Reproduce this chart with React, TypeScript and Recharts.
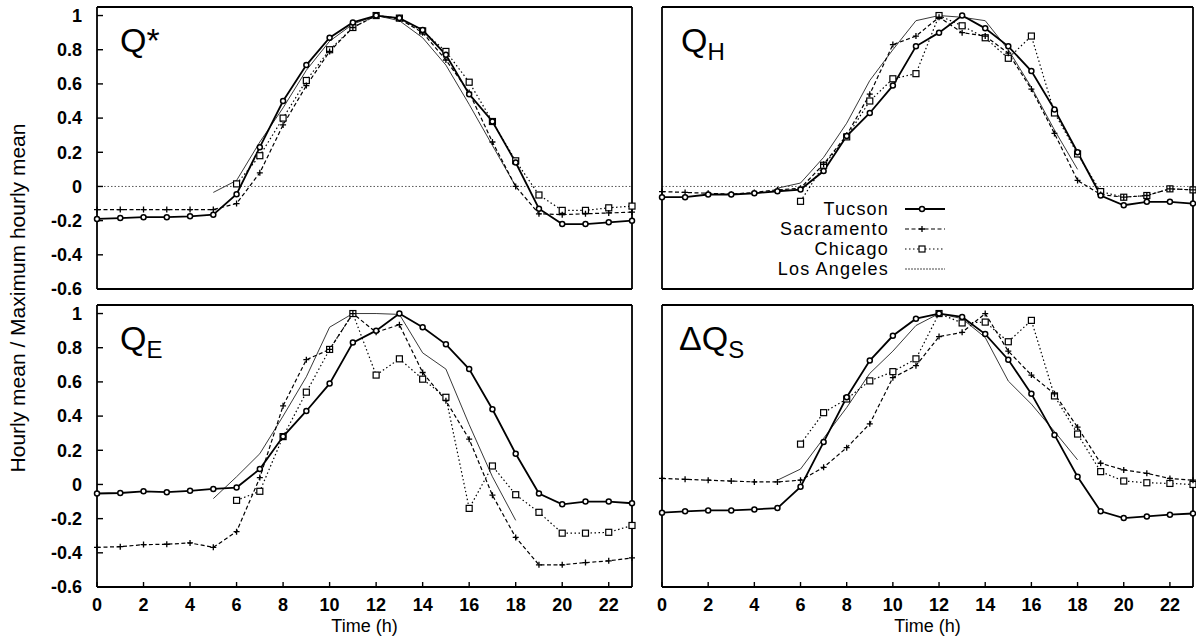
import React from 'react';
import { LineChart, Line, XAxis, YAxis, ReferenceLine, Customized } from 'recharts';

const FONT = '"Liberation Sans", Arial, Helvetica, sans-serif';

const hours = [0, 1, 2, 3, 4, 5, 6, 7, 8, 9, 10, 11, 12, 13, 14, 15, 16, 17, 18, 19, 20, 21, 22, 23];
const xTicks = [0, 2, 4, 6, 8, 10, 12, 14, 16, 18, 20, 22];
const yTicks = [-0.6, -0.4, -0.2, 0, 0.2, 0.4, 0.6, 0.8, 1];
const seriesNames = ['Tucson', 'Sacramento', 'Chicago', 'Los Angeles'];

// Q*
const qstarTucson = [-0.19, -0.185, -0.18, -0.18, -0.175, -0.165, -0.045, 0.23, 0.5, 0.71, 0.87, 0.96, 1.0, 0.985, 0.915, 0.77, 0.54, 0.38, 0.14, -0.13, -0.22, -0.22, -0.21, -0.2];
const qstarSacramento = [-0.135, -0.135, -0.135, -0.135, -0.135, -0.135, -0.1, 0.08, 0.36, 0.59, 0.79, 0.93, 1.0, 0.98, 0.9, 0.74, 0.55, 0.26, 0.0, -0.16, -0.165, -0.16, -0.155, -0.15];
const qstarChicago = [null, null, null, null, null, null, 0.015, 0.18, 0.4, 0.62, 0.8, 0.93, 1.0, 0.985, 0.91, 0.79, 0.61, 0.38, 0.15, -0.05, -0.14, -0.14, -0.125, -0.115];
const qstarLosAngeles = [null, null, null, null, null, -0.035, 0.035, 0.26, 0.46, 0.68, 0.85, 0.95, 1.0, 0.97, 0.87, 0.71, 0.48, 0.24, 0.0, null, null, null, null, null];

// QH
const qhTucson = [-0.063, -0.063, -0.047, -0.047, -0.04, -0.028, -0.018, 0.09, 0.295, 0.43, 0.59, 0.82, 0.9, 1.0, 0.925, 0.82, 0.675, 0.45, 0.2, -0.053, -0.11, -0.09, -0.09, -0.1];
const qhSacramento = [-0.03, -0.035, -0.04, -0.045, -0.035, -0.02, -0.01, 0.13, 0.3, 0.54, 0.83, 0.88, 0.99, 0.9, 0.88, 0.78, 0.57, 0.31, 0.035, -0.047, -0.063, -0.053, -0.014, -0.02];
const qhChicago = [null, null, null, null, null, null, -0.087, 0.124, 0.29, 0.5, 0.63, 0.66, 1.0, 0.94, 0.87, 0.75, 0.88, 0.43, 0.19, -0.03, -0.063, -0.053, -0.014, -0.02];
const qhLosAngeles = [null, null, null, null, null, -0.01, 0.02, 0.17, 0.37, 0.62, 0.8, 0.97, 1.0, 0.99, 0.97, 0.8, 0.58, 0.33, 0.1, null, null, null, null, null];

// QE
const qeTucson = [-0.053, -0.05, -0.04, -0.045, -0.037, -0.026, -0.018, 0.09, 0.28, 0.43, 0.59, 0.83, 0.9, 1.0, 0.92, 0.82, 0.675, 0.44, 0.18, -0.053, -0.116, -0.1, -0.1, -0.11];
const qeSacramento = [-0.368, -0.364, -0.352, -0.35, -0.342, -0.368, -0.276, 0.04, 0.46, 0.73, 0.79, 1.0, 0.89, 0.935, 0.655, 0.49, 0.265, -0.063, -0.31, -0.47, -0.47, -0.457, -0.447, -0.43];
const qeChicago = [null, null, null, null, null, null, -0.093, -0.04, 0.28, 0.54, 0.79, 1.0, 0.64, 0.735, 0.616, 0.51, -0.14, 0.108, -0.06, -0.163, -0.285, -0.285, -0.28, -0.24];
const qeLosAngeles = [null, null, null, null, null, -0.083, 0.045, 0.18, 0.4, 0.63, 0.92, 1.0, 1.0, 0.995, 0.77, 0.675, 0.35, 0.045, -0.21, null, null, null, null, null];

// Delta QS
const dqsTucson = [-0.165, -0.157, -0.152, -0.152, -0.146, -0.138, -0.014, 0.248, 0.51, 0.725, 0.87, 0.97, 1.0, 0.98, 0.88, 0.73, 0.53, 0.29, 0.045, -0.157, -0.197, -0.187, -0.177, -0.17];
const dqsSacramento = [0.035, 0.03, 0.025, 0.02, 0.015, 0.015, 0.025, 0.1, 0.215, 0.355, 0.625, 0.695, 0.865, 0.89, 1.0, 0.78, 0.64, 0.53, 0.335, 0.124, 0.085, 0.065, 0.035, 0.025];
const dqsChicago = [null, null, null, null, null, null, 0.236, 0.42, 0.5, 0.606, 0.66, 0.735, 1.0, 0.945, 0.95, 0.835, 0.96, 0.518, 0.295, 0.075, 0.02, 0.01, 0.006, 0.0];
const dqsLosAngeles = [null, null, null, null, null, 0.025, 0.09, 0.27, 0.45, 0.65, 0.78, 0.93, 1.0, 0.97, 0.86, 0.605, 0.47, 0.31, 0.144, null, null, null, null, null];

const build = (t: any[], s: any[], c: any[], l: any[]) =>
  hours.map((h, i) => ({ h, tucson: t[i], sacramento: s[i], chicago: c[i], la: l[i] }));

const qstarData = build(qstarTucson, qstarSacramento, qstarChicago, qstarLosAngeles);
const qhData = build(qhTucson, qhSacramento, qhChicago, qhLosAngeles);
const qeData = build(qeTucson, qeSacramento, qeChicago, qeLosAngeles);
const dqsData = build(dqsTucson, dqsSacramento, dqsChicago, dqsLosAngeles);

const fmt = (v: number) => String(Math.round(v * 10) / 10);

const CircleDot = (p: any) => {
  const { cx, cy, index, value } = p;
  if (cx == null || cy == null || value == null) return <g key={`c${index}`} />;
  return <circle key={`c${index}`} cx={cx} cy={cy} r={2.5} fill="#fff" stroke="#000" strokeWidth={1.5} />;
};
const PlusDot = (p: any) => {
  const { cx, cy, index, value } = p;
  if (cx == null || cy == null || value == null) return <g key={`p${index}`} />;
  return <path key={`p${index}`} d={`M${cx - 3},${cy}h6M${cx},${cy - 3}v6`} stroke="#000" strokeWidth={1.3} />;
};
const SquareDot = (p: any) => {
  const { cx, cy, index, value } = p;
  if (cx == null || cy == null || value == null) return <g key={`s${index}`} />;
  return <rect key={`s${index}`} x={cx - 3} y={cy - 3} width={6} height={6} fill="#fff" stroke="#000" strokeWidth={1.2} />;
};

const axisLineStyle = { stroke: '#000', strokeWidth: 1.8 };
const tickLineStyle = { stroke: '#000', strokeWidth: 1.4 };

type PanelProps = {
  left: number; top: number; width: number; height: number;
  margin: any; yAxisWidth: number; showY: boolean; showX: boolean;
  data: any[]; title: React.ReactNode; zeroLine: boolean; legend?: boolean;
};

function Legend() {
  const rows = [0, 1, 2, 3];
  const baselines = [215, 235, 255, 275];
  return (
    <g>
      {rows.map((r) => {
        const y = baselines[r];
        const ly = y - 6;
        return (
          <g key={r}>
            <text x={249} y={y} textAnchor="end" fontSize={18} fontFamily={FONT} fill="#000" letterSpacing={1.2}>
              {seriesNames[r]}
            </text>
            {r === 0 && (
              <g>
                <line x1={265} x2={305} y1={ly} y2={ly} stroke="#000" strokeWidth={1.8} />
                <circle cx={282} cy={ly} r={2.5} fill="#fff" stroke="#000" strokeWidth={1.5} />
              </g>
            )}
            {r === 1 && (
              <g>
                <line x1={265} x2={305} y1={ly} y2={ly} stroke="#000" strokeWidth={1.2} strokeDasharray="4 2.5" />
                <path d={`M${279},${ly}h6M${282},${ly - 3}v6`} stroke="#000" strokeWidth={1.3} />
              </g>
            )}
            {r === 2 && (
              <g>
                <line x1={265} x2={305} y1={ly} y2={ly} stroke="#000" strokeWidth={1.2} strokeDasharray="1.5 2.5" />
                <rect x={279} y={ly - 3} width={6} height={6} fill="#fff" stroke="#000" strokeWidth={1.2} />
              </g>
            )}
            {r === 3 && (
              <line x1={265} x2={305} y1={ly} y2={ly} stroke="#333" strokeWidth={0.9} strokeDasharray="2 1" />
            )}
          </g>
        );
      })}
    </g>
  );
}

function Panel(props: PanelProps) {
  const { left, top, width, height, margin, yAxisWidth, showY, showX, data, title, zeroLine, legend } = props;
  return (
    <div style={{ position: 'absolute', left, top, width, height }}>
      <LineChart width={width} height={height} data={data} margin={margin}>
        <XAxis
          xAxisId="b" dataKey="h" type="number" domain={[0, 23]} ticks={xTicks} interval={0}
          height={showX ? 46 : 1} tickSize={-5} tickMargin={16}
          axisLine={axisLineStyle} tickLine={tickLineStyle}
          tick={showX ? { fill: '#000', fontSize: 18, fontWeight: 700, fontFamily: FONT } : false}
          label={showX ? { value: 'Time (h)', position: 'insideBottom', offset: 1, fill: '#000', fontSize: 18, fontFamily: FONT } : undefined}
        />
        <XAxis
          xAxisId="t" orientation="top" dataKey="h" type="number" domain={[0, 23]} ticks={xTicks} interval={0}
          height={1} tickSize={-5} tick={false} axisLine={axisLineStyle} tickLine={tickLineStyle}
        />
        <YAxis
          yAxisId="l" type="number" domain={[-0.6, 1.05]} ticks={yTicks} interval={0}
          width={yAxisWidth} tickSize={-6} tickMargin={21} tickFormatter={fmt}
          axisLine={axisLineStyle} tickLine={tickLineStyle}
          tick={showY ? { fill: '#000', fontSize: 18, fontWeight: 700, fontFamily: FONT } : false}
        />
        <YAxis
          yAxisId="r" orientation="right" type="number" domain={[-0.6, 1.05]} ticks={yTicks} interval={0}
          width={1} tickSize={-6} tick={false} axisLine={axisLineStyle} tickLine={tickLineStyle}
        />
        {zeroLine && (
          <ReferenceLine xAxisId="b" yAxisId="l" y={0} stroke="#444" strokeWidth={0.9} strokeDasharray="1.5 2" />
        )}
        <Line xAxisId="b" yAxisId="l" dataKey="la" stroke="#222" strokeWidth={0.9} dot={false} activeDot={false} isAnimationActive={false} connectNulls={false} />
        <Line xAxisId="b" yAxisId="l" dataKey="chicago" stroke="#000" strokeWidth={1.2} strokeDasharray="1.5 2.5" dot={SquareDot} activeDot={false} isAnimationActive={false} connectNulls={false} />
        <Line xAxisId="b" yAxisId="l" dataKey="sacramento" stroke="#000" strokeWidth={1.2} strokeDasharray="4 2.5" dot={PlusDot} activeDot={false} isAnimationActive={false} connectNulls={false} />
        <Line xAxisId="b" yAxisId="l" dataKey="tucson" stroke="#000" strokeWidth={1.8} dot={CircleDot} activeDot={false} isAnimationActive={false} connectNulls={false} />
        <Customized component={() => <g>{title}{legend ? <Legend /> : null}</g>} />
      </LineChart>
    </div>
  );
}

const titleStyle = { fontSize: 34, fontFamily: FONT, fill: '#000' };

export default function App() {
  return (
    <div style={{ position: 'absolute', left: 0, top: 0, width: 1196, height: 636, background: '#fff', overflow: 'hidden' }}>
      <svg style={{ position: 'absolute', left: 0, top: 0 }} width={40} height={636}>
        <text transform="translate(25,298) rotate(-90)" textAnchor="middle" fontSize={21} fontFamily={FONT} fill="#000">
          Hourly mean / Maximum hourly mean
        </text>
      </svg>
      <Panel
        left={0} top={0} width={640} height={300}
        margin={{ top: 6, right: 7, bottom: 10, left: 0 }} yAxisWidth={97}
        showY showX={false} data={qstarData} zeroLine
        title={<text x={120} y={52} {...titleStyle}>Q*</text>}
      />
      <Panel
        left={640} top={0} width={556} height={300}
        margin={{ top: 6, right: 2, bottom: 10, left: 0 }} yAxisWidth={22}
        showY={false} showX={false} data={qhData} zeroLine legend
        title={<text x={41} y={52} {...titleStyle}>Q<tspan dy={8} fontSize={24}>H</tspan></text>}
      />
      <Panel
        left={0} top={300} width={640} height={336}
        margin={{ top: 4, right: 7, bottom: 3, left: 0 }} yAxisWidth={97}
        showY showX data={qeData} zeroLine={false}
        title={<text x={120} y={50} {...titleStyle}>Q<tspan dy={8} fontSize={24}>E</tspan></text>}
      />
      <Panel
        left={640} top={300} width={556} height={336}
        margin={{ top: 4, right: 2, bottom: 3, left: 0 }} yAxisWidth={22}
        showY={false} showX data={dqsData} zeroLine={false}
        title={<text x={39} y={50} {...titleStyle}>ΔQ<tspan dy={8} fontSize={24}>S</tspan></text>}
      />
    </div>
  );
}
